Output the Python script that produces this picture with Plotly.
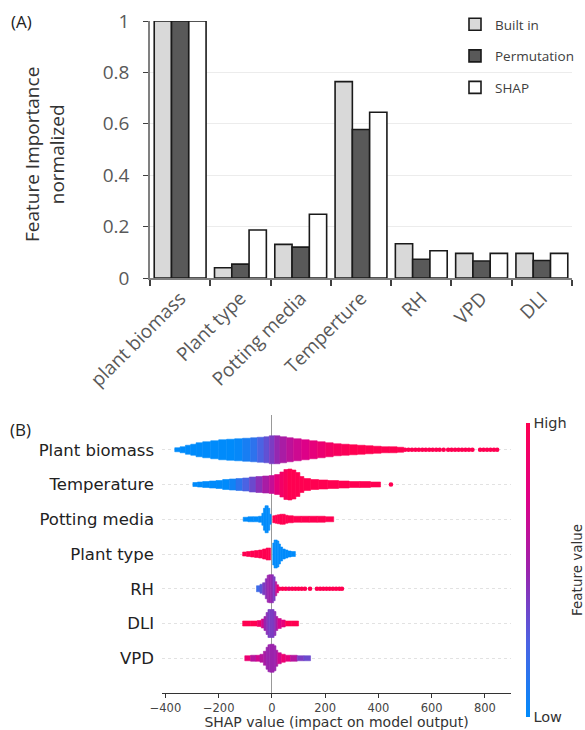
import plotly.graph_objects as go

# ---------------- Panel A data ----------------
features_a = ["plant biomass", "Plant type", "Potting media", "Temperture", "RH", "VPD", "DLI"]
builtin = [1.0, 0.04, 0.131, 0.764, 0.133, 0.096, 0.096]
permutation = [1.0, 0.054, 0.12, 0.578, 0.073, 0.066, 0.068]
shap_imp = [1.0, 0.187, 0.248, 0.645, 0.106, 0.096, 0.096]
ticks_a = [0, 0.2, 0.4, 0.6, 0.8, 1]

# ---------------- Panel B data ----------------
features_b = ["VPD", "DLI", "RH", "Plant type", "Potting media", "Temperature", "Plant biomass"]
ticks_b = [-400, -200, 0, 200, 400, 600, 800]
ticktext_b = ["\u2212400", "\u2212200", "0", "200", "400", "600", "800"]

# beeswarm density profiles:
# bin edges (SHAP value), band thickness (px), feature value colour (0 low .. 1 high)
pb_edges = [-365, -345, -325, -305, -285, -260, -230, -200, -170, -140, -110, -80, -55, -30, -10,
            10, 30, 55, 80, 110, 140, 170, 200, 230, 260, 290, 320, 350, 380, 410, 440, 470, 495]
pb_thick = [4, 6, 9, 11, 14, 16, 18, 20, 21, 22, 23, 24, 25, 26, 28, 28, 26, 24, 22, 20,
            18, 16, 14, 12, 11, 10, 9, 8, 7, 6, 6, 5]
pb_color = [0, 0, 0, 0, 0, 0, 0, 0, 0, 0.02, 0.08, 0.15, 0.25, 0.32, 0.4, 0.48, 0.55, 0.62, 0.68, 0.74,
            0.8, 0.85, 0.9, 0.94, 0.97, 1, 1, 1, 1, 1, 1, 1]
pb_dots = [500, 513, 526, 539, 552, 565, 578, 591, 604, 617, 630, 645,
           662, 675, 688, 701, 714, 727, 740, 753, 782, 795, 808, 821, 834, 846]
pb_dots_c = [1] * 26

te_edges = [-297, -280, -260, -235, -210, -185, -160, -135, -110, -85, -60, -35, -10, 10, 30,
            45, 60, 75, 90, 105, 120, 145, 175, 210, 250, 290, 330, 370, 408]
te_thick = [4, 5, 6, 7, 8, 10, 11, 12, 13, 15, 16, 17, 18, 20, 25, 30, 31, 29, 24, 16,
            12, 10, 9, 8, 7, 6, 6, 5]
te_color = [0, 0, 0, 0, 0, 0, 0.05, 0.15, 0.25, 0.35, 0.45, 0.55, 0.65, 0.8, 0.9, 0.95, 1, 1, 1, 1,
            1, 1, 1, 1, 1, 1, 1, 1]
te_dots = [447]
te_dots_c = [1]

pm_edges = [-108, -90, -70, -50, -38, -32, -26, -20, -14, -8, -3,
            3, 12, 20, 30, 40, 50, 60, 80, 110, 140, 170, 200, 232]
pm_thick = [4, 5, 5, 6, 12, 22, 27, 27, 22, 10, 0,
            7, 8, 9, 10, 10, 8, 7, 6, 6, 6, 6, 5]
pm_color = [0, 0, 0, 0, 0, 0, 0, 0, 0, 0, 0,
            1, 1, 1, 1, 1, 1, 1, 1, 1, 1, 1, 1]

pt_edges = [-110, -95, -80, -65, -50, -35, -22, -12, -5,
            3, 8, 14, 20, 26, 32, 40, 50, 60, 72, 88]
pt_thick = [4, 5, 6, 7, 8, 10, 12, 12, 0,
            22, 28, 28, 26, 20, 14, 10, 8, 6, 5]
pt_color = [1, 1, 1, 1, 1, 1, 1, 1, 1,
            0, 0, 0, 0, 0, 0, 0, 0, 0, 0]

rh_edges = [-58, -45, -35, -25, -18, -12, -6, 0, 6, 12, 18, 25]
rh_thick = [6, 9, 12, 20, 27, 28, 28, 28, 24, 14, 8]
rh_color = [0.2, 0.3, 0.4, 0.45, 0.5, 0.5, 0.5, 0.45, 0.4, 0.6, 0.8]
rh_dots = [28, 40, 52, 64, 76, 88, 100, 112, 124, 143,
           169, 181, 193, 205, 217, 229, 241, 253, 263]
rh_dots_c = [0.9, 1, 1, 0.9, 1, 1, 1, 1, 1, 1, 1, 1, 1, 1, 1, 1, 1, 1, 1]

dl_edges = [-110, -80, -55, -40, -30, -22, -15, -8, 0, 8, 15, 22, 35, 50, 75, 100]
dl_thick = [5, 5, 6, 9, 14, 22, 28, 28, 28, 24, 14, 10, 7, 5, 5]
dl_color = [1, 1, 0.9, 0.7, 0.5, 0.45, 0.4, 0.4, 0.4, 0.45, 0.55, 0.7, 0.8, 1, 1]

vp_edges = [-102, -80, -60, -45, -32, -22, -15, -8, 0, 8, 15, 22, 35, 50, 70, 95, 120, 145]
vp_thick = [5, 6, 6, 8, 14, 22, 27, 28, 28, 25, 16, 11, 8, 6, 6, 5, 5]
vp_color = [0.85, 0.6, 0.7, 0.6, 0.55, 0.5, 0.5, 0.5, 0.5, 0.5, 0.55, 0.7, 0.85, 0.8, 0.6, 0.4, 0.35]

profiles = [
    ("Plant biomass", pb_edges, pb_thick, pb_color),
    ("Temperature", te_edges, te_thick, te_color),
    ("Potting media", pm_edges, pm_thick, pm_color),
    ("Plant type", pt_edges, pt_thick, pt_color),
    ("RH", rh_edges, rh_thick, rh_color),
    ("DLI", dl_edges, dl_thick, dl_color),
    ("VPD", vp_edges, vp_thick, vp_color),
]
dots = [
    ("Plant biomass", pb_dots, pb_dots_c),
    ("Temperature", te_dots, te_dots_c),
    ("RH", rh_dots, rh_dots_c),
]

# ---------------- layout constants ----------------
W, H = 585, 730
FONT_A = "Open Sans"
FONT_B = "DejaVu Sans"
shap_scale = [[0, "rgb(0,139,251)"], [0.25, "rgb(75,99,227)"], [0.5, "rgb(155,35,173)"],
              [0.75, "rgb(224,0,134)"], [1, "rgb(255,0,81)"]]

# panel B plot area in px
B_LEFT, B_RIGHT, B_TOP, B_BOTTOM = 162, 511, 415, 693
B_YRANGE = [-1, 7]
PX_PER_ROW = (B_BOTTOM - B_TOP) / (B_YRANGE[1] - B_YRANGE[0])

fig = go.Figure()

# ---- Panel A bars ----
for name, vals, col in [("Built in", builtin, "#d9d9d9"),
                        ("Permutation", permutation, "#595959"),
                        ("SHAP", shap_imp, "#ffffff")]:
    fig.add_trace(go.Bar(
        x=features_a, y=vals, name=name, legendgroup=name,
        marker=dict(color=col, line=dict(color="#1a1a1a", width=1.6)),
        cliponaxis=False, xaxis="x", yaxis="y"))

# ---- Panel B beeswarm bands ----
bx, bw, bbase, by, bc = [], [], [], [], []
for feat, edges, thick, col in profiles:
    row = features_b.index(feat)
    for i in range(len(thick)):
        if thick[i] <= 0:
            continue
        h = thick[i] / PX_PER_ROW
        bx.append(edges[i])
        bw.append(edges[i + 1] - edges[i])
        bbase.append(row - h / 2)
        by.append(h)
        bc.append(col[i])

fig.add_trace(go.Bar(
    x=bx, y=by, base=bbase, width=bw, offset=0,
    marker=dict(color=bc, colorscale=shap_scale, cmin=0, cmax=1,
                line=dict(width=0.6, color=bc, colorscale=shap_scale, cmin=0, cmax=1),
                showscale=True,
                colorbar=dict(
                    x=526 / W, xanchor="left", xpad=0, ypad=0,
                    y=1 - 570 / H, yanchor="middle", len=294, lenmode="pixels",
                    thickness=4, outlinewidth=0,
                    tickvals=[0, 1], ticktext=["Low", "High"], ticks="",
                    tickfont=dict(family=FONT_B, size=14.5, color="#333333"),
                )),
    showlegend=False, xaxis="x2", yaxis="y2", hoverinfo="skip"))

dx, dy, dc = [], [], []
for feat, xs, cs in dots:
    row = features_b.index(feat)
    dx += xs
    dy += [row] * len(xs)
    dc += cs
fig.add_trace(go.Scatter(
    x=dx, y=dy, mode="markers", showlegend=False, xaxis="x2", yaxis="y2",
    marker=dict(size=4.6, color=dc, colorscale=shap_scale, cmin=0, cmax=1, line=dict(width=0))))

fig.update_layout(
    width=W, height=H,
    margin=dict(l=0, r=0, t=0, b=0, autoexpand=False),
    paper_bgcolor="white", plot_bgcolor="white",
    barmode="group", bargap=0.14, bargroupgap=0,
    font=dict(family=FONT_A, color="#595959"),
    legend=dict(x=455 / W, y=1 - 9 / H, xanchor="left", yanchor="top",
                font=dict(family=FONT_A, size=13.5, color="#404040"),
                tracegroupgap=11, bgcolor="rgba(0,0,0,0)", itemwidth=30),
    xaxis=dict(domain=[150 / W, 572 / W], anchor="y", type="category", automargin=False,
               tickangle=-45, tickson="boundaries", ticks="outside", ticklen=6,
               tickcolor="#404040", tickwidth=1.5,
               showline=True, linecolor="#808080", linewidth=1.5,
               tickfont=dict(family=FONT_A, size=19, color="#595959"),
               showgrid=False),
    yaxis=dict(domain=[1 - 278 / H, 1 - 21 / H], anchor="x", range=[0, 1], automargin=False,
               tickvals=ticks_a, ticks="outside", ticklen=5, tickcolor="#404040",
               showline=True, linecolor="#808080", linewidth=1.5,
               gridcolor="#ececec", gridwidth=1, zeroline=False,
               ticklabelstandoff=10,
               tickfont=dict(family=FONT_A, size=19, color="#595959")),
    xaxis2=dict(domain=[B_LEFT / W, B_RIGHT / W], anchor="y2", range=[-413, 898], automargin=False,
                tickvals=ticks_b, ticktext=ticktext_b, ticks="outside", ticklen=4,
                tickcolor="#333333", showline=True, linecolor="#333333", linewidth=1,
                showgrid=False, zeroline=True, zerolinecolor="#999999", zerolinewidth=1,
                tickfont=dict(family=FONT_B, size=11.5, color="#444444"),
                title=dict(text="SHAP value (impact on model output)", standoff=3,
                           font=dict(family=FONT_B, size=14, color="#333333"))),
    yaxis2=dict(domain=[1 - B_BOTTOM / H, 1 - B_TOP / H], anchor="x2", range=B_YRANGE, automargin=False,
                tickvals=list(range(len(features_b))), ticktext=features_b, ticks="",
                showline=False, zeroline=False, ticklabelstandoff=7,
                showgrid=True, gridcolor="#e2e2e2", gridwidth=0.6, griddash="dot",
                tickfont=dict(family=FONT_B, size=16.5, color="#222222")),
    annotations=[
        dict(text="(A)", x=9 / W, y=1 - 22 / H, xref="paper", yref="paper",
             xanchor="left", yanchor="middle", showarrow=False,
             font=dict(family=FONT_A, size=17, color="#222222")),
        dict(text="(B)", x=8 / W, y=1 - 429 / H, xref="paper", yref="paper",
             xanchor="left", yanchor="middle", showarrow=False,
             font=dict(family=FONT_A, size=17, color="#222222")),
        dict(text="Feature Importance<br>normalized", x=45 / W, y=1 - 155 / H,
             xref="paper", yref="paper", xanchor="center", yanchor="middle",
             textangle=-90, showarrow=False,
             font=dict(family=FONT_A, size=19, color="#333333")),
        dict(text="Feature value", x=577 / W, y=1 - 570 / H, xref="paper", yref="paper",
             xanchor="center", yanchor="middle", textangle=-90, showarrow=False,
             font=dict(family=FONT_B, size=13.5, color="#333333")),
    ],
)

fig.write_html("out.html")
